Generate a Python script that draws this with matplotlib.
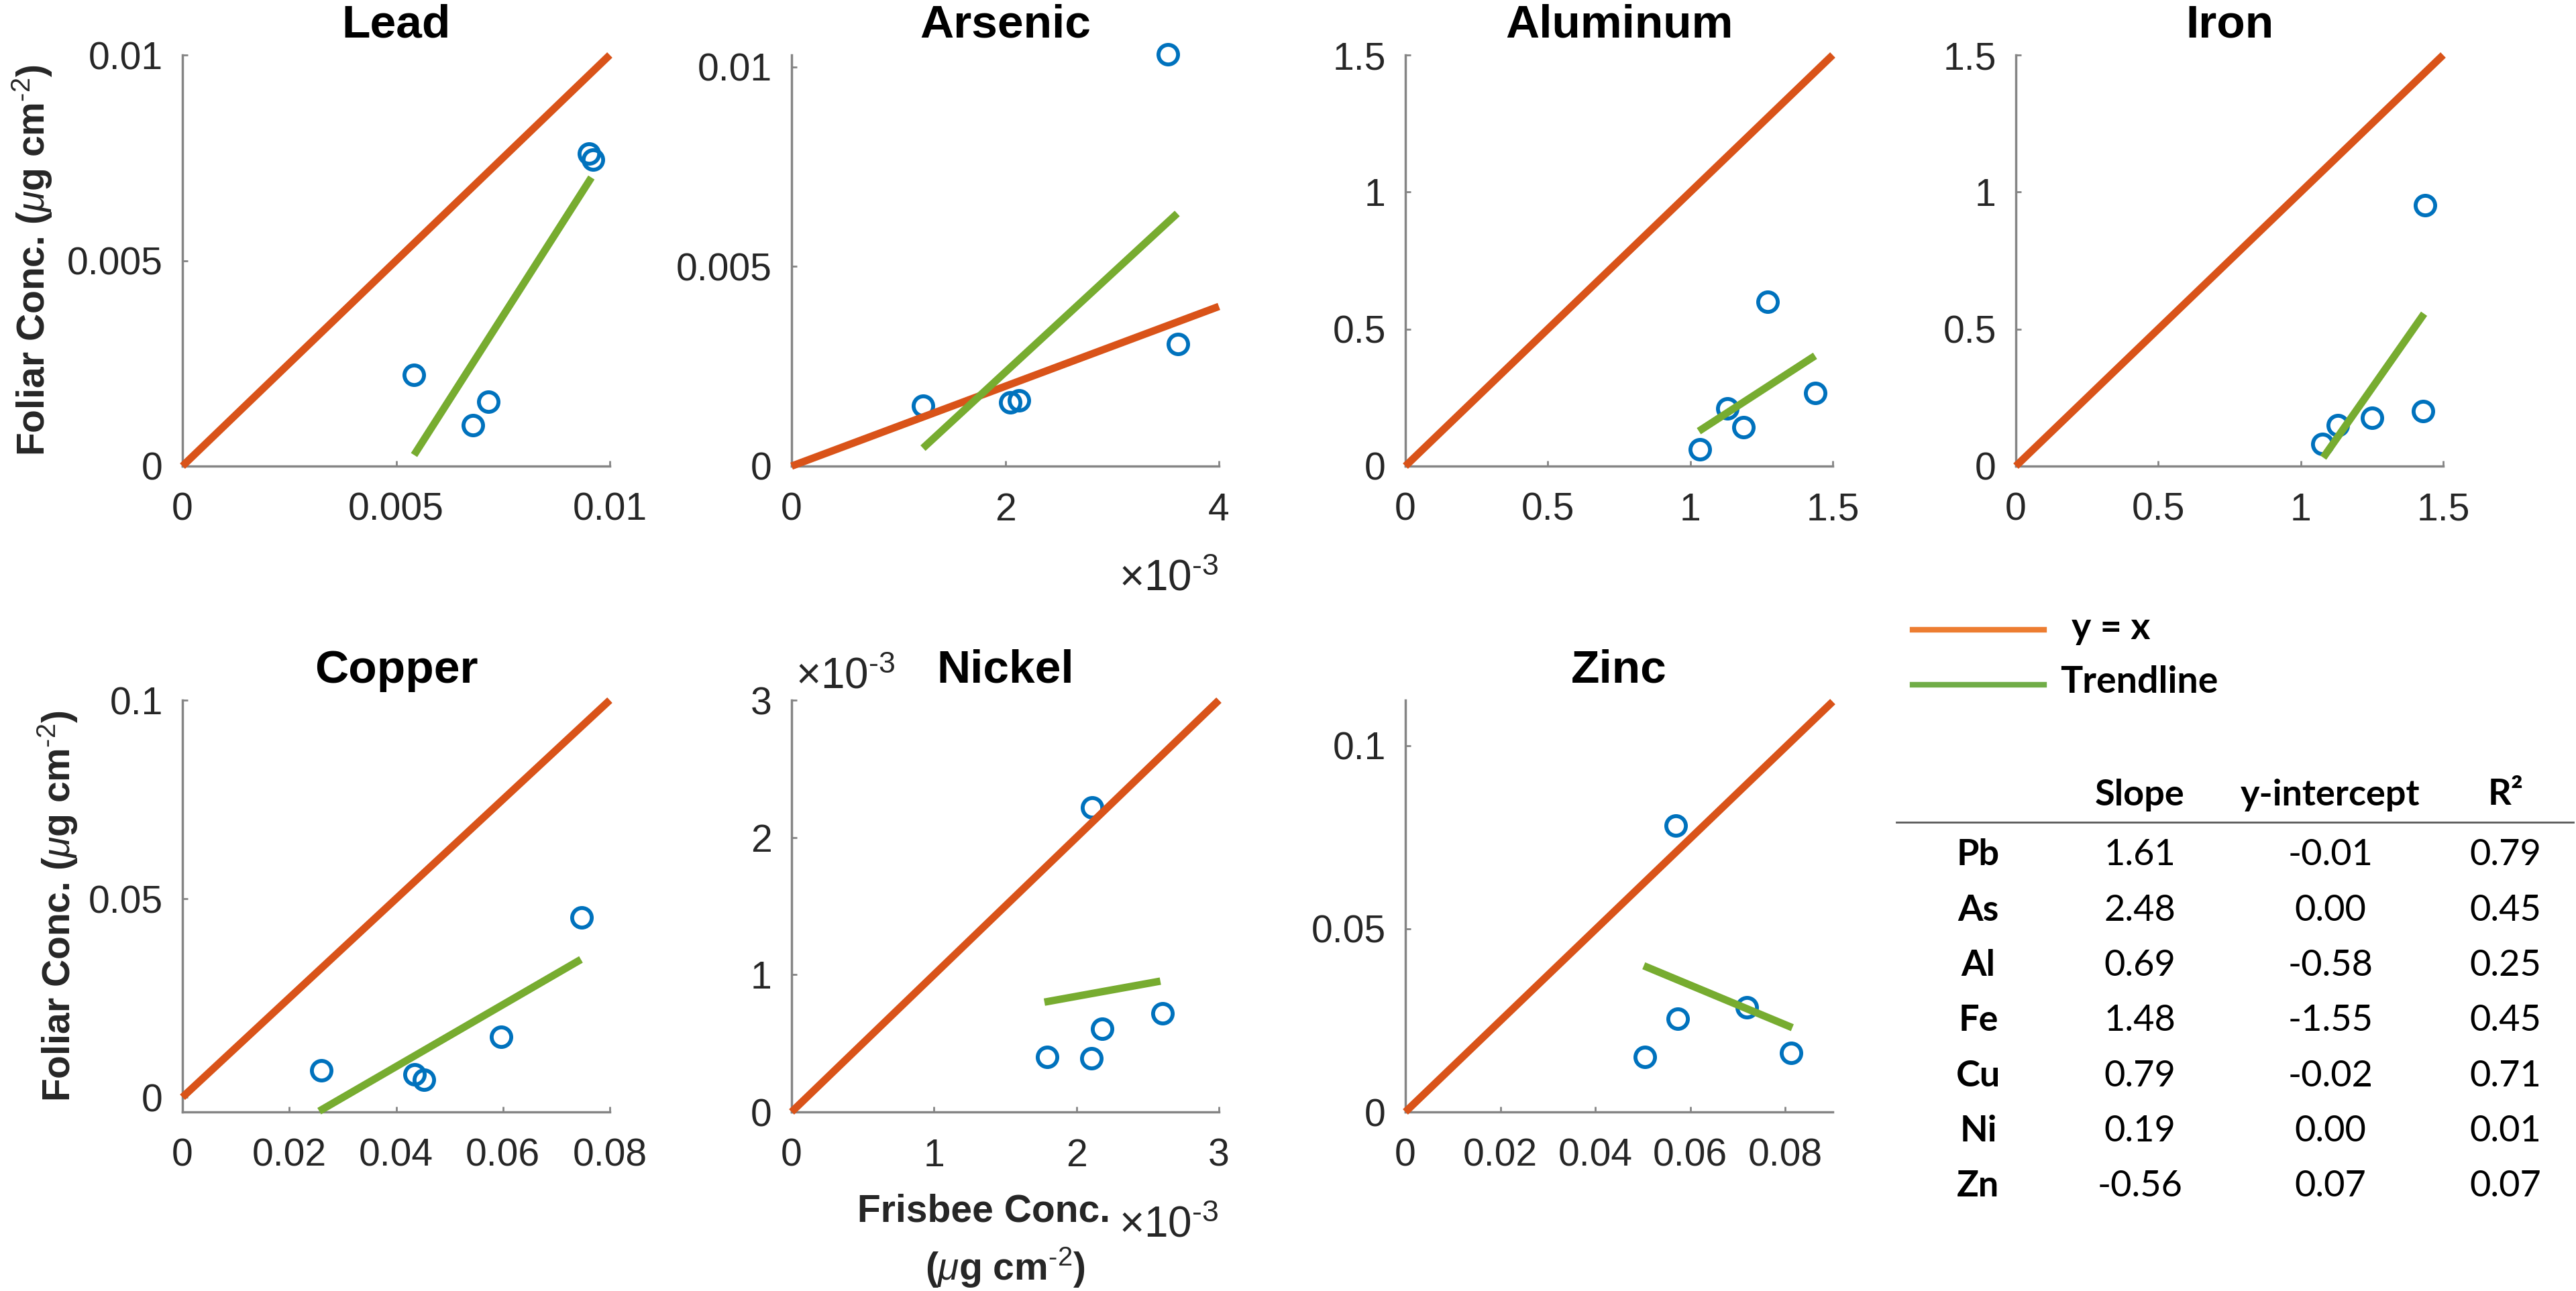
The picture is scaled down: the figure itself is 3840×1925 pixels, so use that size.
import matplotlib
matplotlib.use('Agg')
import matplotlib.pyplot as plt
from matplotlib.lines import Line2D

plt.rcParams['font.family'] = ['Liberation Sans', 'DejaVu Sans']
plt.rcParams['mathtext.fontset'] = 'custom'
plt.rcParams['mathtext.rm'] = 'Liberation Sans'
plt.rcParams['mathtext.it'] = 'Liberation Sans:italic'
plt.rcParams['mathtext.bf'] = 'Liberation Sans:bold'

# ---- data ----
names = ['Lead', 'Arsenic', 'Aluminum', 'Iron', 'Copper', 'Nickel', 'Zinc']

frisbee = [
    [0.00952, 0.00960, 0.00542, 0.00716, 0.00680],
    [3.52e-3, 3.62e-3, 1.23e-3, 2.05e-3, 2.13e-3],
    [1.033, 1.131, 1.186, 1.271, 1.438],
    [1.436, 1.430, 1.250, 1.131, 1.076],
    [0.0260, 0.0435, 0.0452, 0.0597, 0.0747],
    [2.108e-3, 1.792e-3, 2.105e-3, 2.180e-3, 2.603e-3],
    [0.0569, 0.0573, 0.0504, 0.0719, 0.0812],
]
foliar = [
    [0.00761, 0.00746, 0.00222, 0.00157, 0.00100],
    [0.01031, 0.00306, 0.00152, 0.00159, 0.00164],
    [0.060, 0.210, 0.141, 0.600, 0.266],
    [0.953, 0.200, 0.175, 0.150, 0.081],
    [0.0067, 0.0058, 0.0044, 0.0152, 0.0452],
    [2.216e-3, 0.400e-3, 0.393e-3, 0.608e-3, 0.720e-3],
    [0.0782, 0.0254, 0.0150, 0.0285, 0.0162],
]

# trendline end points
trend_x = [(0.00542, 0.00957), (1.23e-3, 3.61e-3), (1.03, 1.438), (1.079, 1.433),
           (0.0256, 0.0746), (1.775e-3, 2.589e-3), (0.0502, 0.0815)]
trend_y = [(0.00027, 0.00702), (0.00045, 0.00633), (0.1275, 0.4025), (0.031, 0.556),
           (-0.0035, 0.0347), (0.80e-3, 0.953e-3), (0.0399, 0.0230)]

# "y = x" reference line end points
ref_end = [(0.01, 0.01), (4e-3, 4e-3), (1.5, 1.5), (1.5, 1.5),
           (0.08, 0.1), (3e-3, 3e-3), (0.09, 0.112)]

xlims = [(0, 0.01), (0, 4e-3), (0, 1.5), (0, 1.5), (0, 0.08), (0, 3e-3), (0, 0.09)]
ylims = [(0, 0.01), (0, 0.0103), (0, 1.5), (0, 1.5), (-0.0037, 0.1), (0, 3e-3), (0, 0.1124)]

xticks = [[0, 0.005, 0.01], [0, 2e-3, 4e-3], [0, 0.5, 1, 1.5], [0, 0.5, 1, 1.5],
          [0, 0.02, 0.04, 0.06, 0.08], [0, 1e-3, 2e-3, 3e-3], [0, 0.02, 0.04, 0.06, 0.08]]
xticklabels = [['0', '0.005', '0.01'], ['0', '2', '4'], ['0', '0.5', '1', '1.5'],
               ['0', '0.5', '1', '1.5'], ['0', '0.02', '0.04', '0.06', '0.08'],
               ['0', '1', '2', '3'], ['0', '0.02', '0.04', '0.06', '0.08']]
yticks = [[0, 0.005, 0.01], [0, 0.005, 0.01], [0, 0.5, 1, 1.5], [0, 0.5, 1, 1.5],
          [0, 0.05, 0.1], [0, 1e-3, 2e-3, 3e-3], [0, 0.05, 0.1]]
yticklabels = [['0', '0.005', '0.01'], ['0', '0.005', '0.01'], ['0', '0.5', '1', '1.5'],
               ['0', '0.5', '1', '1.5'], ['0', '0.05', '0.1'], ['0', '1', '2', '3'],
               ['0', '0.05', '0.1']]

# fit table
tab_rows = ['Pb', 'As', 'Al', 'Fe', 'Cu', 'Ni', 'Zn']
tab_cols = ['Slope', 'y-intercept', 'R\u00b2']
slope = ['1.61', '2.48', '0.69', '1.48', '0.79', '0.19', '-0.56']
intercept = ['-0.01', '0.00', '-0.58', '-1.55', '-0.02', '0.00', '0.07']
r2 = ['0.79', '0.45', '0.25', '0.45', '0.71', '0.01', '0.07']

# ---- styling ----
W, H = 3841, 1925
BLUE, ORANGE, GREEN = '#0072BD', '#D95319', '#77AC30'
AXC = '#858585'
TXT = '#262626'


def fx(px):
    return px / W


def fy(py):
    return 1 - py / H


col_l = [272, 1180, 2095, 3005]
col_w = 637
rows = [(82, 695), (1044, 1658)]
slots = [(0, 0), (0, 1), (0, 2), (0, 3), (1, 0), (1, 1), (1, 2)]

fig = plt.figure(figsize=(W / 100, H / 100), dpi=100, facecolor='white')

axes = []
for i, name in enumerate(names):
    r, c = slots[i]
    top, bot = rows[r]
    ax = fig.add_axes([fx(col_l[c]), fy(bot), col_w / W, (bot - top) / H])
    axes.append(ax)

    ax.plot(frisbee[i], foliar[i], 'o', mfc='none', mec=BLUE, ms=21, mew=4.2,
            clip_on=False, zorder=3)
    ax.plot([0, ref_end[i][0]], [0, ref_end[i][1]], color=ORANGE, lw=8,
            solid_capstyle='butt', clip_on=False, zorder=4)
    ax.plot(trend_x[i], trend_y[i], color=GREEN, lw=8,
            solid_capstyle='butt', clip_on=False, zorder=4)

    ax.set_xlim(xlims[i])
    ax.set_ylim(ylims[i])
    ax.set_xticks(xticks[i])
    ax.set_xticklabels(xticklabels[i])
    ax.set_yticks(yticks[i])
    ax.set_yticklabels(yticklabels[i])

    for s in ['top', 'right']:
        ax.spines[s].set_visible(False)
    for s in ['left', 'bottom']:
        ax.spines[s].set_color(AXC)
        ax.spines[s].set_linewidth(2.5)
    ax.tick_params(direction='in', length=6, width=2, color=AXC,
                   labelsize=41, labelcolor=TXT)
    ax.tick_params(axis='x', pad=28)
    ax.tick_params(axis='y', pad=21)
    ax.set_title(name, fontsize=50, fontweight='bold', pad=19)

# exponent labels for the scaled axes
exp_txt = r'$\times\mathregular{10^{\text{-}3}}$'
axes[1].text(1.0, -0.302, exp_txt, transform=axes[1].transAxes, ha='right',
             va='baseline', fontsize=46, color=TXT)
axes[5].text(1.0, -0.303, exp_txt, transform=axes[5].transAxes, ha='right',
             va='baseline', fontsize=46, color=TXT)
axes[5].text(0.01, 1.028, exp_txt, transform=axes[5].transAxes, ha='left',
             va='baseline', fontsize=46, color=TXT)

# axis labels
ylab = r'Foliar Conc. ($\mu$g cm$^{\text{-}2}$)'
fig.text(fx(48), fy(388), ylab, rotation=90, ha='center', va='center',
         fontsize=41, fontweight='bold', color=TXT)
fig.text(fx(86), fy(1351), ylab, rotation=90, ha='center', va='center',
         fontsize=41, fontweight='bold', color=TXT)
axes[5].text(0.45, -0.2655, 'Frisbee Conc.', transform=axes[5].transAxes,
             ha='center', va='baseline', fontsize=41, fontweight='bold', color=TXT)
axes[5].text(0.5, -0.409, r'($\mu$g cm$^{\text{-}2}$)', transform=axes[5].transAxes,
             ha='center', va='baseline', fontsize=41, fontweight='bold', color=TXT)

# legend (drawn by hand, as in the source figure)
fig.add_artist(Line2D([fx(2851), fx(3047)], [fy(939), fy(939)], color='#ED7D31', lw=6))
fig.add_artist(Line2D([fx(2851), fx(3047)], [fy(1021), fy(1021)], color='#70AD47', lw=6))
fig.text(fx(3088), fy(937), 'y = x', ha='left', va='center', fontsize=40,
         fontweight='bold', family='Lato')
fig.text(fx(3071), fy(1017), 'Trendline', ha='left', va='center', fontsize=40,
         fontweight='bold', family='Lato')

# fit table
col_x = [3190, 3474, 3735]
row_x = 2949
head_y = 1185
row_y0, row_dy = 1275, 82.3
for cx, lab in zip(col_x, tab_cols):
    fig.text(fx(cx), fy(head_y), lab, ha='center', va='center', fontsize=39,
             fontweight='bold', family='Lato')
fig.add_artist(Line2D([fx(2827), fx(3836)], [fy(1226), fy(1226)], color='#595959', lw=2))
for k, el in enumerate(tab_rows):
    yy = fy(row_y0 + k * row_dy)
    fig.text(fx(row_x), yy, el, ha='center', va='center', fontsize=39,
             fontweight='bold', family='Lato')
    for cx, val in zip(col_x, [slope[k], intercept[k], r2[k]]):
        fig.text(fx(cx), yy, val, ha='center', va='center', fontsize=39,
                 family='Lato')

fig.savefig('out.png', dpi=100, facecolor='white')
